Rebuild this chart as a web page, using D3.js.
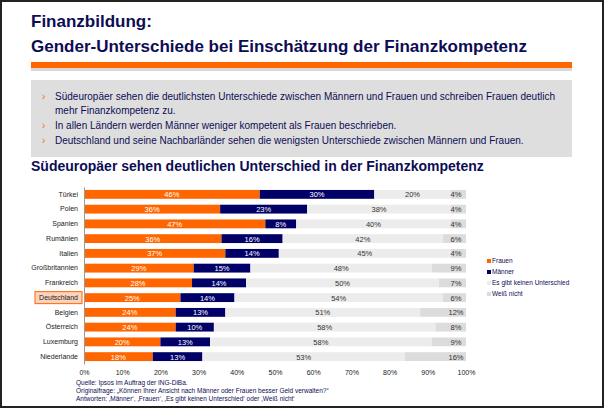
<!DOCTYPE html>
<html><head><meta charset="utf-8">
<script src="https://cdn.jsdelivr.net/npm/d3@7"></script>
<style>body{margin:0;background:#fff;font-family:"Liberation Sans",Arial,sans-serif}</style>
</head><body><div id="container"></div>
<script>
//data
var countries = ["Türkei","Polen","Spanien","Rumänien","Italien","Großbritannien","Frankreich","Deutschland","Belgien","Österreich","Luxemburg","Niederlande"];
var frauen = [46,36,47,36,37,29,28,25,24,24,20,18];
var maenner = [30,23,8,16,14,15,14,14,13,10,13,13];
var keinUnterschied = [20,38,40,42,45,48,50,54,51,58,58,53];
var weissNicht = [4,4,4,6,4,9,7,6,12,8,9,16];
var seriesNames = ["Frauen","Männer","Es gibt keinen Unterschied","Weiß nicht"];
var colors = ["#ff6600","#000066","#ececec","#dcdcdc"];
var xTicks = [0,0.1,0.2,0.3,0.4,0.5,0.6,0.7,0.8,0.9,1];
var bullets = ["Südeuropäer sehen die deutlichsten Unterschiede zwischen Männern und Frauen und schreiben Frauen deutlich",
  "mehr Finanzkompetenz zu.",
  "In allen Ländern werden Männer weniger kompetent als Frauen beschrieben.",
  "Deutschland und seine Nachbarländer sehen die wenigsten Unterschiede zwischen Männern und Frauen."];
var notes = ["Quelle: Ipsos im Auftrag der ING-DiBa.",
  "Originalfrage: „Können Ihrer Ansicht nach Männer oder Frauen besser Geld verwalten?“",
  "Antworten: ‚Männer‘, ‚Frauen‘, ‚Es gibt keinen Unterschied‘ oder ‚Weiß nicht‘"];

var width = 606, height = 409, navy = "#0d0d55";
var svg = d3.select("#container").append("svg").attr("width", width).attr("height", height);

//frame
svg.append("rect").attr("x",1).attr("y",1).attr("width",width-4).attr("height",height-3)
  .attr("fill","#fff").attr("stroke","#222").attr("stroke-width",2);

//header
svg.append("text").attr("x",31).attr("y",27).attr("font-size",17).attr("font-weight","bold").attr("fill",navy).text("Finanzbildung:");
svg.append("text").attr("x",31).attr("y",52).attr("font-size",17).attr("font-weight","bold").attr("fill",navy).text("Gender-Unterschiede bei Einschätzung der Finanzkompetenz");
svg.append("rect").attr("x",31).attr("y",62).attr("width",541).attr("height",6).attr("fill","#ff6600");
svg.append("rect").attr("x",31).attr("y",68).attr("width",541).attr("height",3).attr("fill","#d8d8d8");

//bullet box
svg.append("rect").attr("x",31).attr("y",80).attr("width",541).attr("height",77).attr("fill","#dedede");
var by = [100,114,129,144];
bullets.forEach(function(t,i){
  if (i != 1) svg.append("text").attr("x",42).attr("y",by[i]).attr("font-size",10).attr("fill","#ff6600").text("›");
  svg.append("text").attr("x",55).attr("y",by[i]).attr("font-size",10).attr("fill",navy).attr("textLength", i==0 ? 500 : null).text(t);
});
svg.append("text").attr("x",31).attr("y",171).attr("font-size",14).attr("font-weight","bold").attr("fill",navy).text("Südeuropäer sehen deutlichen Unterschied in der Finanzkompetenz");

//chart
var x = d3.scaleLinear().domain([0,1]).range([84,466]);
var y = d3.scaleBand().domain(countries).range([187,364]).paddingInner(0.4).paddingOuter(0.2);

var rows = countries.map(function(c,i){
  var vals = [frauen[i],maenner[i],keinUnterschied[i],weissNicht[i]];
  var tot = d3.sum(vals), acc = 0;
  return vals.map(function(v,k){ var s = {country:c,k:k,v:v,x0:acc/tot,x1:(acc+v)/tot}; acc += v; return s; });
});

var seg = svg.append("g").selectAll("g").data(rows).enter().append("g");
seg.selectAll("rect").data(function(d){return d;}).enter().append("rect")
  .attr("x",function(d){return x(d.x0);})
  .attr("width",function(d){return x(d.x1)-x(d.x0);})
  .attr("y",function(d){return y(d.country);})
  .attr("height",y.bandwidth())
  .attr("fill",function(d){return colors[d.k];});
seg.selectAll("text").data(function(d){return d;}).enter().append("text")
  .attr("x",function(d){ return d.k==3 ? x(1)-10 : (x(d.x0)+x(d.x1))/2; })
  .attr("y",function(d){return y(d.country)+y.bandwidth()/2+3;})
  .attr("text-anchor","middle").attr("font-size",7.5)
  .attr("fill",function(d){return d.k<2 ? "#fff" : "#333";})
  .text(function(d){return d.v+"%";});

//axes
var yAxis = svg.append("g").attr("transform","translate(84,0)")
  .call(d3.axisLeft(y).tickSize(0).tickPadding(6));
yAxis.select(".domain").attr("stroke","#999");
yAxis.selectAll("text").attr("font-size",7).attr("fill","#222").attr("font-family","Liberation Sans");
var xAxis = svg.append("g").attr("transform","translate(0,364)")
  .call(d3.axisBottom(x).tickValues(xTicks).tickFormat(d3.format(".0%")).tickSize(0).tickPadding(6));
xAxis.select(".domain").remove();
xAxis.selectAll("text").attr("font-size",7).attr("fill","#222").attr("font-family","Liberation Sans");

//highlight Deutschland
yAxis.selectAll(".tick").filter(function(d){return d=="Deutschland";}).insert("rect","text")
  .attr("x",-49).attr("y",-6).attr("width",47).attr("height",12)
  .attr("fill","#fbd3bd").attr("stroke","#ff6600").attr("stroke-width",1);

//legend
var leg = svg.append("g").selectAll("g").data(seriesNames).enter().append("g")
  .attr("transform",function(d,i){return "translate(487,"+(263+i*11)+")";});
leg.append("rect").attr("width",4).attr("height",4).attr("y",-4).attr("fill",function(d,i){return colors[i];});
leg.append("text").attr("x",5).attr("font-size",6.5).attr("fill",navy).text(function(d){return d;});

//notes
notes.forEach(function(t,i){
  svg.append("text").attr("x",76).attr("y",385+i*8).attr("font-size",6.5).attr("fill",navy).text(t);
});
</script></body></html>
